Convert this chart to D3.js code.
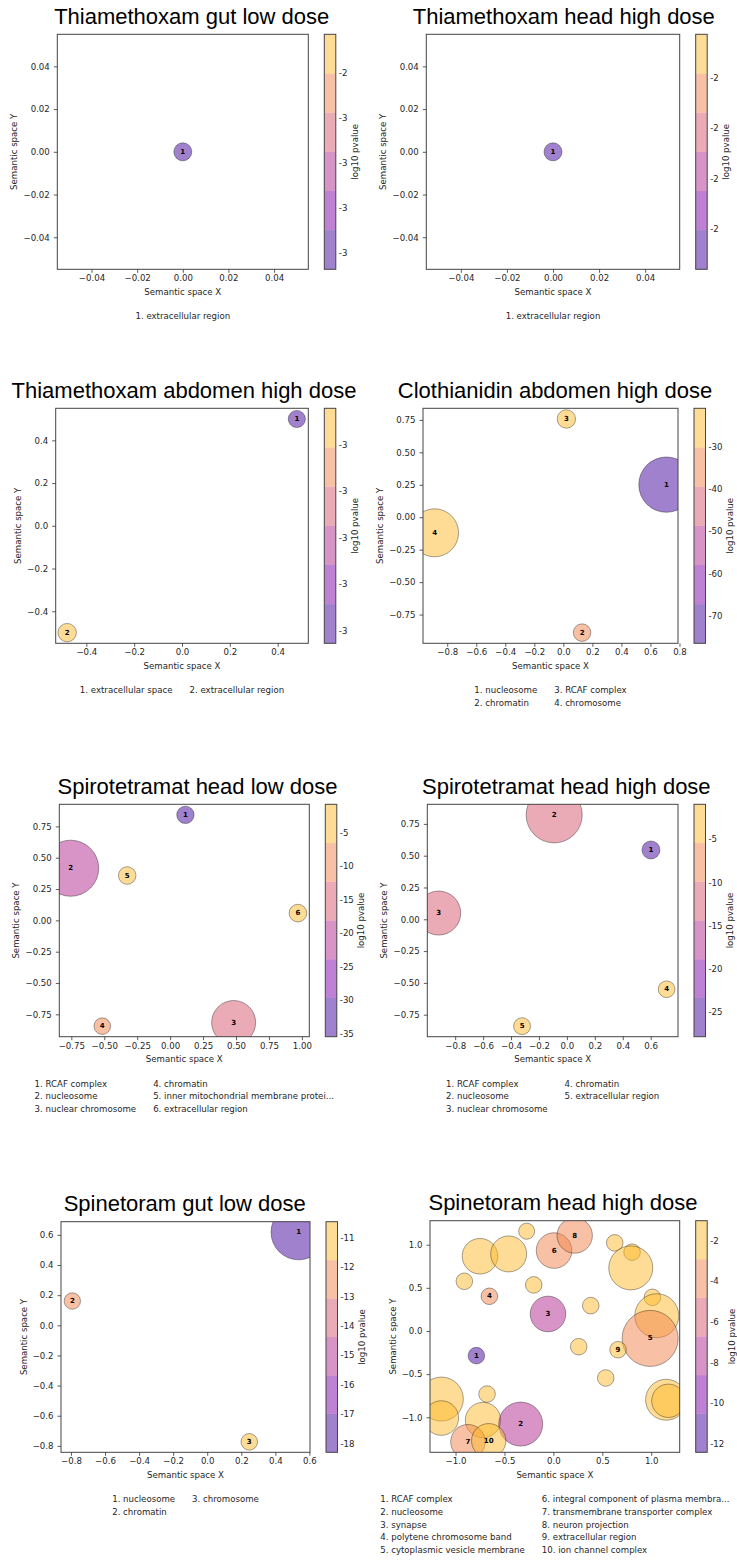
<!DOCTYPE html>
<html>
<head>
<meta charset="utf-8">
<script src="https://cdn.jsdelivr.net/npm/d3@7"></script>
<style>
  body { margin: 0; background: #fff; }
  svg text { font-family: "DejaVu Sans", sans-serif; }
</style>
</head>
<body>
<svg id="fig" width="737" height="1560"></svg>
<script>
// ---------- Thiamethoxam gut low dose ----------
const tgl_terms = ["extracellular region"];
const tgl_x = [0];
const tgl_y = [0];
const tgl_logp = [-3.27];
const tgl_size = [1.07];
const tgl_prange = [-3.274, -2.23];
const tgl_xticks = [-0.04, -0.02, 0, 0.02, 0.04];
const tgl_yticks = [-0.04, -0.02, 0, 0.02, 0.04];

// ---------- Thiamethoxam head high dose ----------
const thh_terms = ["extracellular region"];
const thh_x = [0];
const thh_y = [0];
const thh_logp = [-2.35];
const thh_size = [1.07];
const thh_prange = [-2.358, -1.429];
const thh_xticks = [-0.04, -0.02, 0, 0.02, 0.04];
const thh_yticks = [-0.04, -0.02, 0, 0.02, 0.04];

// ---------- Thiamethoxam abdomen high dose ----------
const tah_terms = ["extracellular space", "extracellular region"];
const tah_x = [0.48, -0.48];
const tah_y = [0.5, -0.5];
const tah_logp = [-3.455, -2.442];
const tah_size = [0.97, 1.12];
const tah_prange = [-3.455, -2.442];
const tah_xticks = [-0.4, -0.2, 0, 0.2, 0.4];
const tah_yticks = [-0.4, -0.2, 0, 0.2, 0.4];

// ---------- Clothianidin abdomen high dose ----------
const cah_terms = ["nucleosome", "chromatin", "RCAF complex", "chromosome"];
const cah_x = [0.71, 0.129, 0.021, -0.887];
const cah_y = [0.251, -0.889, 0.757, -0.12];
const cah_logp = [-76.5, -33.5, -20.9, -22.4];
const cah_size = [10.1, 1.02, 1.12, 7.6];
const cah_prange = [-76.5, -20.9];
const cah_xticks = [-0.8, -0.6, -0.4, -0.2, 0, 0.2, 0.4, 0.6, 0.8];
const cah_yticks = [-0.75, -0.5, -0.25, 0, 0.25, 0.5, 0.75];

// ---------- Spirotetramat head low dose ----------
const shl_terms = ["RCAF complex", "nucleosome", "nuclear chromosome", "chromatin",
  "inner mitochondrial membrane protein complex", "extracellular region"];
const shl_x = [0.116, -0.755, 0.482, -0.515, -0.326, 0.97];
const shl_y = [0.842, 0.416, -0.815, -0.844, 0.358, 0.058];
const shl_logp = [-35.4, -20.6, -15.2, -10.3, -2.1, -0.8];
const shl_size = [1.0, 10.4, 6.4, 0.91, 1.02, 1.03];
const shl_prange = [-35.4, -0.8];
const shl_xticks = [-0.75, -0.5, -0.25, 0, 0.25, 0.5, 0.75, 1.0];
const shl_yticks = [-0.75, -0.5, -0.25, 0, 0.25, 0.5, 0.75];

// ---------- Spirotetramat head high dose ----------
const shh_terms = ["RCAF complex", "nucleosome", "nuclear chromosome", "chromatin", "extracellular region"];
const shh_x = [0.602, -0.091, -0.918, 0.714, -0.321];
const shh_y = [0.545, 0.821, 0.049, -0.55, -0.84];
const shh_logp = [-27.8, -12.2, -11.0, -0.95, -2.3];
const shh_size = [1.07, 10.4, 6.4, 0.92, 0.95];
const shh_prange = [-27.8, -0.95];
const shh_xticks = [-0.8, -0.6, -0.4, -0.2, 0, 0.2, 0.4, 0.6];
const shh_yticks = [-0.75, -0.5, -0.25, 0, 0.25, 0.5, 0.75];

// ---------- Spinetoram gut low dose ----------
const sgl_terms = ["nucleosome", "chromatin", "chromosome"];
const sgl_x = [0.537, -0.792, 0.247];
const sgl_y = [0.618, 0.161, -0.773];
const sgl_logp = [-18.29, -12.4, -10.46];
const sgl_size = [10.1, 0.89, 0.91];
const sgl_prange = [-18.29, -10.46];
const sgl_xticks = [-0.8, -0.6, -0.4, -0.2, 0, 0.2, 0.4, 0.6];
const sgl_yticks = [-0.8, -0.6, -0.4, -0.2, 0, 0.2, 0.4, 0.6];

// ---------- Spinetoram head high dose ----------
const sph_terms = ["RCAF complex", "nucleosome", "synapse", "polytene chromosome band",
  "cytoplasmic vesicle membrane", "integral component of plasma membrane",
  "transmembrane transporter complex", "neuron projection", "extracellular region", "ion channel complex"];
const sph_x = [-0.787, -0.334, -0.055, -0.654, 0.989, 0.007, -0.873, 0.218, 0.661, -0.661];
const sph_y = [-0.286, -1.079, 0.197, 0.402, -0.086, 0.932, -1.284, 1.106, -0.217, -1.272];
const sph_logp = [-12.41, -8.1, -7.6, -4.2, -3.6, -3.9, -3.3, -3.5, -2.4, -2.6];
const sph_size = [0.91, 6.4, 4.19, 0.91, 10.4, 4.19, 3.95, 4.14, 0.91, 3.9];
// further terms plotted without a legend entry
const sph_other_x = [-0.273, -0.75, -0.457, -0.91, -0.201, 0.627, 0.804, 0.791, 1.012, 1.057,
  0.382, 0.259, 0.535, -0.678, -1.145, -1.145, -0.719, 1.152, 1.175];
const sph_other_y = [1.156, 0.866, 0.893, 0.576, 0.534, 1.021, 0.913, 0.731, 0.39, 0.177,
  0.294, -0.182, -0.545, -0.731, -0.789, -1.009, -1.032, -0.797, -0.809];
const sph_other_logp = [-1.6, -2.1, -1.9, -2.5, -1.8, -2.2, -1.4, -1.7, -2.0, -1.5,
  -2.6, -1.3, -2.3, -2.7, -1.9, -2.4, -1.8, -1.02, -2.2];
const sph_other_size = [0.85, 4.19, 4.28, 0.91, 0.91, 0.91, 0.91, 6.4, 0.91, 6.4,
  0.91, 0.91, 0.91, 0.91, 6.4, 3.95, 4.14, 5.55, 3.68];
const sph_prange = [-12.41, -1.02];
const sph_xticks = [-1.0, -0.5, 0, 0.5, 1.0];
const sph_yticks = [-1.0, -0.5, 0, 0.5, 1.0];

const panels = [
  { title: "Thiamethoxam gut low dose", terms: tgl_terms, x: tgl_x, y: tgl_y, logp: tgl_logp, size: tgl_size, prange: tgl_prange, xticks: tgl_xticks, yticks: tgl_yticks },
  { title: "Thiamethoxam head high dose", terms: thh_terms, x: thh_x, y: thh_y, logp: thh_logp, size: thh_size, prange: thh_prange, xticks: thh_xticks, yticks: thh_yticks },
  { title: "Thiamethoxam abdomen high dose", terms: tah_terms, x: tah_x, y: tah_y, logp: tah_logp, size: tah_size, prange: tah_prange, xticks: tah_xticks, yticks: tah_yticks },
  { title: "Clothianidin abdomen high dose", terms: cah_terms, x: cah_x, y: cah_y, logp: cah_logp, size: cah_size, prange: cah_prange, xticks: cah_xticks, yticks: cah_yticks },
  { title: "Spirotetramat head low dose", terms: shl_terms, x: shl_x, y: shl_y, logp: shl_logp, size: shl_size, prange: shl_prange, xticks: shl_xticks, yticks: shl_yticks },
  { title: "Spirotetramat head high dose", terms: shh_terms, x: shh_x, y: shh_y, logp: shh_logp, size: shh_size, prange: shh_prange, xticks: shh_xticks, yticks: shh_yticks },
  { title: "Spinetoram gut low dose", terms: sgl_terms, x: sgl_x, y: sgl_y, logp: sgl_logp, size: sgl_size, prange: sgl_prange, xticks: sgl_xticks, yticks: sgl_yticks },
  { title: "Spinetoram head high dose", terms: sph_terms, x: sph_x, y: sph_y, logp: sph_logp, size: sph_size, prange: sph_prange, xticks: sph_xticks, yticks: sph_yticks,
    otherX: sph_other_x, otherY: sph_other_y, otherLogp: sph_other_logp, otherSize: sph_other_size }
];

// plot-area rectangles (px) and title centres for the 2 x 4 grid
const layout = [
  { left: 57.3, top: 34.3, right: 308.3, bottom: 269.3, titleX: 191.7 },
  { left: 426.3, top: 34.3, right: 679.7, bottom: 269.3, titleX: 563.8 },
  { left: 55.7, top: 408.3, right: 308.3, bottom: 643.3, titleX: 184 },
  { left: 423, top: 408.3, right: 678, bottom: 643.3, titleX: 555 },
  { left: 59.3, top: 804.3, right: 309.3, bottom: 1036.7, titleX: 197.5 },
  { left: 427.3, top: 804.3, right: 678, bottom: 1036.7, titleX: 566.3 },
  { left: 61, top: 1221.7, right: 310, bottom: 1452.3, titleX: 184.7 },
  { left: 430, top: 1220.7, right: 679.7, bottom: 1452.3, titleX: 563 }
];

const svg = d3.select("#fig");
const bandColors = d3.range(6).map(i => d3.interpolatePlasma(0.1 + i * 0.15));
const rScale = d3.scaleSqrt().domain([0, 1]).range([0, 8.7]);
const TXT = "#262626";
const EDGE = "#444";
const FS = 8.6;

function decimalsFor(ticks) {
  for (let d = 0; d < 5; d++) {
    if (ticks.every(t => Math.abs(t * 10 ** d - Math.round(t * 10 ** d)) < 1e-6)) return d;
  }
  return 4;
}
function axisFormat(d) {
  return v => (Math.abs(v) < 1e-12 ? 0 : v).toFixed(d).replace("-", "\u2212");
}
function paddedDomain(vals) {
  let [lo, hi] = d3.extent(vals);
  if (hi - lo < 1e-12) { lo -= 0.05; hi += 0.05; }
  const m = (hi - lo) * 0.05;
  return [lo - m, hi + m];
}
function shortTerm(t) {
  return t.length > 36 ? t.slice(0, 35) + "..." : t;
}
function styleAxis(sel) {
  sel.select(".domain").remove();
  sel.selectAll(".tick line").attr("stroke", "#333").attr("stroke-width", 0.8);
  sel.selectAll(".tick text").attr("font-size", FS).attr("fill", TXT)
    .attr("font-family", "DejaVu Sans, sans-serif");
  sel.attr("font-family", null).attr("font-size", null);
}

panels.forEach((p, i) => {
  const L = layout[i];
  const g = svg.append("g");
  const allX = p.x.concat(p.otherX || []);
  const allY = p.y.concat(p.otherY || []);
  const xs = d3.scaleLinear().domain(paddedDomain(allX)).range([L.left, L.right]);
  const ys = d3.scaleLinear().domain(paddedDomain(allY)).range([L.bottom, L.top]);
  const cs = d3.scaleQuantize().domain(p.prange).range(bandColors);

  // title
  g.append("text").attr("x", L.titleX).attr("y", L.top - 10.5)
    .attr("text-anchor", "middle").attr("font-size", 22).attr("fill", "#000")
    .style("font-family", "'Liberation Sans', Arial, Helvetica, sans-serif")
    .text(p.title);

  // clip region for the bubbles
  const cid = "plotclip" + i;
  svg.append("clipPath").attr("id", cid).append("rect")
    .attr("x", L.left).attr("y", L.top)
    .attr("width", L.right - L.left).attr("height", L.bottom - L.top);

  const pts = [];
  (p.otherX || []).forEach((v, k) => pts.push({ x: v, y: p.otherY[k], logp: p.otherLogp[k], size: p.otherSize[k], label: null }));
  p.x.forEach((v, k) => pts.push({ x: v, y: p.y[k], logp: p.logp[k], size: p.size[k], label: String(k + 1) }));

  const plot = g.append("g").attr("clip-path", `url(#${cid})`);
  plot.selectAll("circle").data(pts).join("circle")
    .attr("cx", d => xs(d.x)).attr("cy", d => ys(d.y))
    .attr("r", d => rScale(d.size))
    .attr("fill", d => cs(d.logp)).attr("fill-opacity", 0.5)
    .attr("stroke", "#000").attr("stroke-opacity", 0.5).attr("stroke-width", 0.7);
  plot.selectAll("text").data(pts.filter(d => d.label)).join("text")
    .attr("x", d => xs(d.x)).attr("y", d => ys(d.y))
    .attr("text-anchor", "middle").attr("dominant-baseline", "central")
    .attr("font-size", 7).attr("font-weight", "bold").attr("fill", "#000")
    .text(d => d.label);

  // frame
  g.append("rect").attr("x", L.left).attr("y", L.top)
    .attr("width", L.right - L.left).attr("height", L.bottom - L.top)
    .attr("fill", "none").attr("stroke", EDGE).attr("stroke-width", 1);

  // axes
  const xAx = g.append("g").attr("transform", `translate(0,${L.bottom})`)
    .call(d3.axisBottom(xs).tickValues(p.xticks).tickSize(3.5).tickPadding(2.5)
      .tickFormat(axisFormat(decimalsFor(p.xticks))));
  styleAxis(xAx);
  const yAx = g.append("g").attr("transform", `translate(${L.left},0)`)
    .call(d3.axisLeft(ys).tickValues(p.yticks).tickSize(3.5).tickPadding(4)
      .tickFormat(axisFormat(decimalsFor(p.yticks))));
  styleAxis(yAx);
  let maxYW = 0;
  yAx.selectAll(".tick text").each(function () { maxYW = Math.max(maxYW, this.getComputedTextLength()); });

  g.append("text").attr("x", (L.left + L.right) / 2).attr("y", L.bottom + 25.5)
    .attr("text-anchor", "middle").attr("font-size", FS).attr("fill", TXT)
    .text("Semantic space X");
  const ylx = L.left - 7.5 - maxYW - 9;
  const yly = (L.top + L.bottom) / 2;
  g.append("text").attr("transform", `translate(${ylx},${yly}) rotate(-90)`)
    .attr("text-anchor", "middle").attr("dominant-baseline", "central")
    .attr("font-size", FS).attr("fill", TXT).text("Semantic space Y");

  // colour bar
  const cbX = L.right + 16, cbW = 11.5;
  const cbScale = d3.scaleLinear().domain(p.prange).range([L.bottom, L.top]);
  const cbg = g.append("g");
  const thr = [p.prange[0], ...cs.thresholds(), p.prange[1]];
  cbg.selectAll("rect.band").data(bandColors).join("rect").attr("class", "band")
    .attr("x", cbX).attr("width", cbW)
    .attr("y", (c, k) => cbScale(thr[k + 1]))
    .attr("height", (c, k) => cbScale(thr[k]) - cbScale(thr[k + 1]))
    .attr("fill", c => c).attr("fill-opacity", 0.5);
  cbg.append("rect").attr("x", cbX).attr("y", L.top).attr("width", cbW)
    .attr("height", L.bottom - L.top).attr("fill", "none")
    .attr("stroke", EDGE).attr("stroke-width", 1);
  const cbTicks = d3.ticks(p.prange[0], p.prange[1], 6);
  let maxCW = 0;
  cbg.selectAll("text.cbt").data(cbTicks).join("text").attr("class", "cbt")
    .attr("x", cbX + cbW + 3).attr("y", t => cbScale(t))
    .attr("dominant-baseline", "central").attr("font-size", FS).attr("fill", TXT)
    .text(t => (+t.toFixed(6)).toFixed(0))
    .each(function () { maxCW = Math.max(maxCW, this.getComputedTextLength()); });
  const clx = cbX + cbW + 3 + maxCW + 7.5;
  cbg.append("text").attr("transform", `translate(${clx},${yly}) rotate(-90)`)
    .attr("text-anchor", "middle").attr("dominant-baseline", "central")
    .attr("font-size", FS).attr("fill", TXT).text("log10 pvalue");

  // numbered term list under the plot, two columns filled column-wise
  const n = p.terms.length;
  const ncol = n > 1 ? 2 : 1;
  const nrow = Math.ceil(n / ncol);
  const lg = g.append("g");
  const items = p.terms.map((t, k) => ({ text: `${k + 1}. ${shortTerm(t)}`, col: Math.floor(k / nrow), row: k % nrow }));
  const texts = lg.selectAll("text").data(items).join("text")
    .attr("font-size", FS).attr("fill", TXT).attr("dominant-baseline", "central")
    .attr("y", d => L.bottom + 47 + d.row * 12.6)
    .text(d => d.text);
  const colW = d3.range(ncol).map(() => 0);
  texts.each(function (d) { colW[d.col] = Math.max(colW[d.col], this.getComputedTextLength()); });
  const gap = 17;
  const total = d3.sum(colW) + gap * (ncol - 1);
  const start = (L.left + L.right) / 2 - total / 2;
  const colX = colW.map((w, k) => start + d3.sum(colW.slice(0, k)) + gap * k);
  texts.attr("x", d => colX[d.col]);
});
</script>
</body>
</html>
